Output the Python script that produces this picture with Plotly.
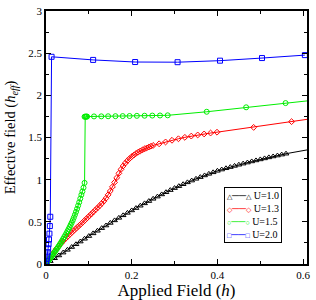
import plotly.graph_objects as go

# ---- data ----
u10_h = [0.00, 0.01, 0.02, 0.03, 0.04, 0.05, 0.06, 0.07, 0.08, 0.09,
         0.10, 0.11, 0.12, 0.13, 0.14, 0.15, 0.16, 0.17, 0.18, 0.19,
         0.20, 0.21, 0.22, 0.23, 0.24, 0.25, 0.26, 0.27, 0.28, 0.29,
         0.30, 0.31, 0.32, 0.33, 0.34, 0.35, 0.36, 0.37, 0.38, 0.39,
         0.40, 0.41, 0.42, 0.43, 0.44, 0.45, 0.46, 0.47, 0.48, 0.49,
         0.50, 0.51, 0.52, 0.53, 0.54, 0.55, 0.56, 0.65]
u10_v = [0.000, 0.034, 0.068, 0.101, 0.135, 0.168, 0.201, 0.234, 0.266, 0.299,
         0.331, 0.363, 0.394, 0.425, 0.456, 0.487, 0.517, 0.547, 0.577, 0.606,
         0.635, 0.663, 0.691, 0.719, 0.746, 0.773, 0.799, 0.825, 0.851, 0.876,
         0.900, 0.923, 0.946, 0.968, 0.989, 1.010, 1.030, 1.050, 1.069, 1.087,
         1.105, 1.120, 1.135, 1.149, 1.163, 1.177, 1.190, 1.203, 1.216, 1.228,
         1.240, 1.252, 1.264, 1.275, 1.286, 1.297, 1.308, 1.390]

u13_h = [0.000, 0.005, 0.010, 0.015, 0.020, 0.025, 0.030, 0.035, 0.040, 0.045,
         0.050, 0.055, 0.060, 0.065, 0.070, 0.075, 0.080, 0.085, 0.090, 0.095,
         0.100, 0.105, 0.110, 0.115, 0.120, 0.125, 0.130, 0.135, 0.140, 0.145,
         0.150, 0.155, 0.160, 0.165, 0.170, 0.175, 0.180, 0.185, 0.190, 0.195,
         0.200, 0.205, 0.210, 0.215, 0.220, 0.225, 0.230, 0.235, 0.240, 0.245,
         0.250, 0.264, 0.279, 0.294, 0.309, 0.324, 0.339, 0.354, 0.369, 0.384,
         0.399, 0.4845, 0.573, 0.650]
u13_v = [0.000, 0.040, 0.080, 0.117, 0.152, 0.183, 0.213, 0.243, 0.272, 0.298,
         0.323, 0.348, 0.372, 0.396, 0.420, 0.444, 0.467, 0.491, 0.515, 0.540,
         0.565, 0.590, 0.615, 0.640, 0.665, 0.690, 0.717, 0.746, 0.780, 0.820,
         0.865, 0.915, 0.968, 1.022, 1.075, 1.122, 1.162, 1.196, 1.225, 1.250,
         1.272, 1.292, 1.310, 1.326, 1.340, 1.353, 1.365, 1.376, 1.387, 1.397,
         1.406, 1.425, 1.447, 1.467, 1.485, 1.502, 1.517, 1.530, 1.542, 1.553,
         1.563, 1.620, 1.688, 1.745]

u15_h = [0.0000, 0.0025, 0.0050, 0.0075, 0.0100, 0.0125, 0.0150, 0.0175, 0.0200, 0.0225,
         0.0250, 0.0275, 0.0300, 0.0325, 0.0350, 0.0375, 0.0400, 0.0425, 0.0450, 0.0475,
         0.0500, 0.0525, 0.0550, 0.0575, 0.0600, 0.0625, 0.0650, 0.0675, 0.0700, 0.0725,
         0.0750, 0.0775, 0.0800, 0.0825, 0.0850, 0.0875, 0.0900,
         0.0900, 0.0915, 0.0930, 0.0945, 0.0960,
         0.112, 0.129, 0.145, 0.162, 0.179, 0.195, 0.212, 0.230, 0.248, 0.266,
         0.284, 0.375, 0.467, 0.559, 0.651]
u15_v = [0.000, 0.017, 0.034, 0.051, 0.069, 0.086, 0.104, 0.122, 0.140, 0.158,
         0.177, 0.196, 0.215, 0.235, 0.255, 0.276, 0.297, 0.319, 0.341, 0.364,
         0.388, 0.412, 0.437, 0.463, 0.490, 0.520, 0.551, 0.584, 0.618, 0.654,
         0.692, 0.732, 0.775, 0.820, 0.860, 0.905, 0.962,
         1.746, 1.747, 1.747, 1.748, 1.748,
         1.750, 1.751, 1.752, 1.753, 1.754, 1.755, 1.757, 1.758, 1.760, 1.761,
         1.763, 1.805, 1.858, 1.908, 1.957]

u20_h = [0.000, 0.001, 0.002, 0.003, 0.004, 0.005, 0.006, 0.007, 0.008, 0.009,
         0.010, 0.013, 0.110, 0.208, 0.307, 0.406, 0.504, 0.604]
u20_v = [0.000, 0.030, 0.065, 0.100, 0.140, 0.185, 0.235, 0.290, 0.360, 0.450,
         0.560, 2.457, 2.420, 2.395, 2.393, 2.411, 2.442, 2.477]

series_names = ["U=1.0", "U=1.3", "U=1.5", "U=2.0"]
series_colors = ["#000000", "#ff0000", "#00ee00", "#0000ff"]
series_symbols = ["triangle-up-open", "diamond-open", "circle-open", "square-open"]
legend_glyphs = ["△", "◇", "○", "□"]
series_sizes = [5, 4.5, 5, 5]

x_ticks = [0, 0.2, 0.4, 0.6]
x_ticklabels = ["0", "0.2", "0.4", "0.6"]
y_ticks = [0, 0.5, 1, 1.5, 2, 2.5, 3]
y_ticklabels = ["0", "0.5", "1", "1.5", "2", "2.5", "3"]

xs = [u10_h, u13_h, u15_h, u20_h]
ys = [u10_v, u13_v, u15_v, u20_v]

fig = go.Figure()
for x, y, name, c, s, sz in zip(xs, ys, series_names, series_colors, series_symbols, series_sizes):
    fig.add_trace(go.Scatter(
        x=x, y=y, name=name, mode="lines+markers",
        line=dict(color=c, width=1),
        marker=dict(symbol=s, size=sz, color=c, line=dict(color=c, width=1)),
        showlegend=False,
    ))

font_family = "Liberation Serif"
axis_common = dict(
    showgrid=False, zeroline=False, showline=True, linecolor="black", linewidth=1.5,
    mirror="ticks", ticks="inside", ticklen=5, tickwidth=1, tickcolor="black",
    tickfont=dict(family=font_family, size=11, color="black"),
)
fig.update_xaxes(
    range=[0, 0.609], tickvals=x_ticks, ticktext=x_ticklabels,
    minor=dict(ticks="inside", ticklen=3, dtick=0.1, tickcolor="black", showgrid=False),
    title=dict(text="Applied Field (<i>h</i>)", font=dict(family=font_family, size=17, color="black"), standoff=2),
    **axis_common,
)
fig.update_yaxes(
    range=[0, 3], tickvals=y_ticks, ticktext=y_ticklabels,
    minor=dict(ticks="inside", ticklen=3, dtick=0.25, tickcolor="black", showgrid=False),
    title=dict(text="Effective field (<i>h</i><sub><i>eff</i></sub>)", font=dict(family=font_family, size=14.5, color="black"), standoff=9),
    **axis_common,
)

# legend box (drawn as a bordered text block, as in the reference)
legend_lines = []
for g, c, name in zip(legend_glyphs, series_colors, series_names):
    legend_lines.append(
        f"<span style='color:{c};font-size:7px'>{g}</span>"
        f"<span style='color:{c}'>──</span>"
        f"<span style='color:{c};font-size:7px'>{g}</span> {name}"
    )
fig.add_annotation(
    xref="paper", yref="paper", x=0.682, y=0.303, xanchor="left", yanchor="top",
    text="<br>".join(legend_lines), align="left", showarrow=False,
    font=dict(family=font_family, size=10, color="black"),
    bgcolor="white", bordercolor="black", borderwidth=1, borderpad=2,
)

fig.update_layout(
    width=316, height=300,
    margin=dict(l=46, r=6, t=5, b=34),
    paper_bgcolor="white", plot_bgcolor="white",
    showlegend=False,
)
fig.write_html("out.html", config={"displayModeBar": False},
               post_script="document.body.style.margin='0px';")
